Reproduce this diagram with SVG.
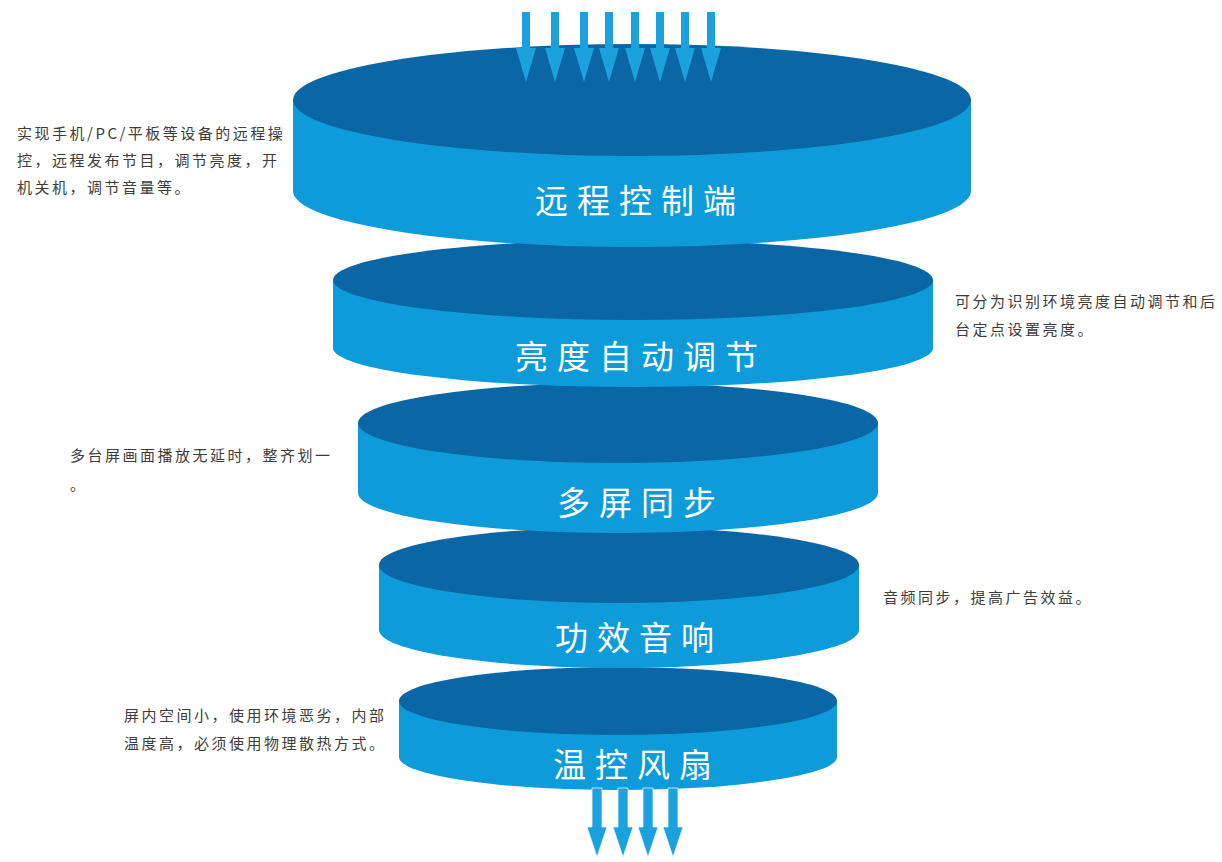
<svg xmlns="http://www.w3.org/2000/svg" xmlns:xlink="http://www.w3.org/1999/xlink" width="1222" height="862" viewBox="0 0 1222 862">
<style>
.side{fill:#0d9cd9}
.top{fill:#0a66a5}
.lbl{font-family:"Noto Sans CJK SC","Noto Sans CJK JP",sans-serif;font-size:33px;fill:#ffffff;text-anchor:middle;letter-spacing:9px}
.note{font-family:"Noto Sans CJK SC","Noto Sans CJK JP",sans-serif;font-size:15px;fill:#3c3c3c;letter-spacing:2.5px}
.arr{fill:#1ba1dd}
</style>
<defs>
<path id="arTop" d="M-4,12 L4,12 L4,48 L10,48 L0,82 L-10,48 L-4,48 Z"/>
<path id="arBot" d="M-5,788 L5,788 L5,827 L10,827 L0,857 L-10,827 L-5,827 Z"/>
</defs>
<rect width="1222" height="862" fill="#ffffff"/>

<g id="disc5">
<path class="side" d="M399,701 L399,757 A219,33 0 0 0 837,757 L837,701 Z"/>
<ellipse class="top" cx="618" cy="701" rx="219" ry="34"/>
<text class="lbl" x="637" y="777">温控风扇</text>
</g>
<g id="disc4">
<path class="side" d="M379,565 L379,630 A240,38 0 0 0 859,630 L859,565 Z"/>
<ellipse class="top" cx="619" cy="565" rx="240" ry="38"/>
<text class="lbl" x="639" y="650">功效音响</text>
</g>
<g id="disc3">
<path class="side" d="M358,423 L358,493 A260,40 0 0 0 878,493 L878,423 Z"/>
<ellipse class="top" cx="618" cy="423" rx="260" ry="40"/>
<text class="lbl" x="641" y="515">多屏同步</text>
</g>
<g id="disc2">
<path class="side" d="M333,280 L333,348 A300,39 0 0 0 933,348 L933,280 Z"/>
<ellipse class="top" cx="633" cy="280" rx="300" ry="40"/>
<text class="lbl" x="641" y="369">亮度自动调节</text>
</g>
<g id="disc1">
<path class="side" d="M293,100 L293,191 A339,56 0 0 0 971,191 L971,100 Z"/>
<ellipse class="top" cx="632" cy="100" rx="339" ry="56"/>
<text class="lbl" x="640" y="213">远程控制端</text>
</g>

<g id="connectors">
<g class="arr">
<use xlink:href="#arTop" href="#arTop" x="526"/>
<use xlink:href="#arTop" href="#arTop" x="555"/>
<use xlink:href="#arTop" href="#arTop" x="584"/>
<use xlink:href="#arTop" href="#arTop" x="609"/>
<use xlink:href="#arTop" href="#arTop" x="635"/>
<use xlink:href="#arTop" href="#arTop" x="660"/>
<use xlink:href="#arTop" href="#arTop" x="685"/>
<use xlink:href="#arTop" href="#arTop" x="711"/>
</g>
<g class="arr" stroke="#e6f4fb" stroke-width="0.8">
<use xlink:href="#arBot" href="#arBot" x="597"/>
<use xlink:href="#arBot" href="#arBot" x="623"/>
<use xlink:href="#arBot" href="#arBot" x="648"/>
<use xlink:href="#arBot" href="#arBot" x="673"/>
</g>
</g>

<g id="note1">
<text class="note" x="17" y="139">实现手机/PC/平板等设备的远程操</text>
<text class="note" x="17" y="166">控，远程发布节目，调节亮度，开</text>
<text class="note" x="17" y="193">机关机，调节音量等。</text>
</g>
<g id="note2">
<text class="note" x="955" y="307">可分为识别环境亮度自动调节和后</text>
<text class="note" x="955" y="335">台定点设置亮度。</text>
</g>
<g id="note3">
<text class="note" x="70" y="461">多台屏画面播放无延时，整齐划一</text>
<text class="note" x="70" y="490">。</text>
</g>
<g id="note4">
<text class="note" x="883" y="603">音频同步，提高广告效益。</text>
</g>
<g id="note5">
<text class="note" x="124" y="721">屏内空间小，使用环境恶劣，内部</text>
<text class="note" x="124" y="749">温度高，必须使用物理散热方式。</text>
</g>
</svg>
